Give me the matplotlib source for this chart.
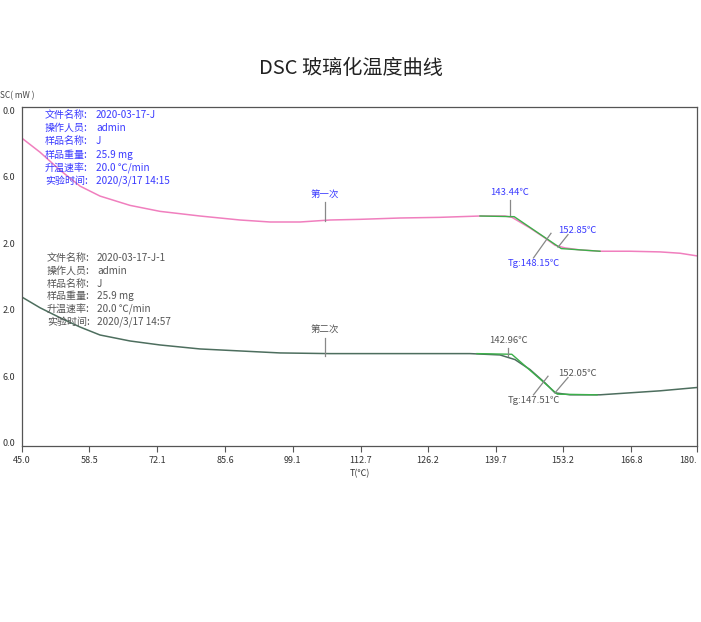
import matplotlib
matplotlib.use("Agg")
import matplotlib.pyplot as plt

plt.rcParams['font.family'] = ['Noto Sans CJK SC', 'DejaVu Sans']

# 温度 (℃) 与 热流读数 (以刻度格为单位，0 在顶部)
temp_1 = [45.0, 48.6, 52.6, 56.6, 60.6, 66.6, 72.6, 80.6, 88.6, 94.6, 100.6, 106.6,
          112.6, 120.6, 128.6, 136.6, 141.6, 143.0, 146.6, 149.6, 151.6, 153.6,
          156.6, 160.6, 166.6, 172.6, 176.6, 180.0]
dsc_1 = [0.42, 0.63, 0.90, 1.14, 1.29, 1.43, 1.52, 1.59, 1.65, 1.68, 1.68, 1.65,
         1.64, 1.62, 1.61, 1.59, 1.59, 1.61, 1.77, 1.92, 2.03, 2.07,
         2.10, 2.12, 2.12, 2.13, 2.15, 2.19]

temp_2 = [45.0, 48.6, 52.6, 56.6, 60.6, 66.6, 72.6, 80.6, 88.6, 96.6, 106.6, 120.6,
          134.6, 140.6, 143.6, 146.6, 149.6, 151.6, 154.6, 160.6, 166.6, 172.6, 180.0]
dsc_2 = [2.81, 2.97, 3.12, 3.26, 3.38, 3.47, 3.53, 3.59, 3.62, 3.65, 3.66, 3.66,
         3.66, 3.68, 3.75, 3.90, 4.10, 4.25, 4.28, 4.28, 4.25, 4.22, 4.17]

# 切线 (起始点, 终止点)
tan_1_x = [136.6, 143.44, 152.85, 160.6]
tan_1_y = [1.59, 1.60, 2.08, 2.12]
tan_2_x = [136.0, 142.96, 152.05, 160.0]
tan_2_y = [3.66, 3.67, 4.27, 4.28]

x_ticks = [45.0, 58.5, 72.1, 85.6, 99.1, 112.7, 126.2, 139.7, 153.2, 166.8, 180.0]
x_labels = ["45.0", "58.5", "72.1", "85.6", "99.1", "112.7", "126.2", "139.7", "153.2", "166.8", "180."]
y_ticks = [0, 1, 2, 3, 4, 5]
y_labels = ["0.0", "6.0", "2.0", "2.0", "6.0", "0.0"]

info_keys = ["文件名称:", "操作人员:", "样品名称:", "样品重量:", "升温速率:", "实验时间:"]
info_1 = ["2020-03-17-J", "admin", "J", "25.9 mg", "20.0 ℃/min", "2020/3/17 14:15"]
info_2 = ["2020-03-17-J-1", "admin", "J", "25.9 mg", "20.0 ℃/min", "2020/3/17 14:57"]

blue = "#3a3aff"
gray = "#555555"
pink = "#f07fbe"
dark = "#4d6e5e"
green = "#3cb04a"

fig = plt.figure(figsize=(7.01, 6.22), dpi=100)
W, H = 701, 622
ax = fig.add_axes([22 / W, (H - 446) / H, 675 / W, 339 / H])

ax.plot(temp_1, dsc_1, color=pink, lw=1.1)
ax.plot(temp_2, dsc_2, color=dark, lw=1.1)
ax.plot(tan_1_x, tan_1_y, color=green, lw=1.0)
ax.plot(tan_2_x, tan_2_y, color=green, lw=1.0)

ax.set_xlim(45, 180)
ax.set_ylim(5.05, -0.05)
ax.set_xticks(x_ticks)
ax.set_xticklabels(x_labels, fontsize=6.5, color="#333333")
ax.get_xticklabels()[-1].set_ha("right")
ax.set_yticks(y_ticks)
ax.set_yticklabels(y_labels, fontsize=6.5, color="#333333")
ax.tick_params(axis="x", length=4, width=0.8, color="#555555", pad=3)
ax.tick_params(axis="y", length=0, pad=5)
for s in ax.spines.values():
    s.set_color("#555555")
    s.set_linewidth(0.9)
ax.set_xlabel("T(℃)", fontsize=6.5, color="#333333", labelpad=3)

# 峰值标注
lc = "#888888"
ann = [
    ("第一次", 105.6, 1.38, 105.6, 1.66, blue),
    ("143.44℃", 142.6, 1.35, 142.6, 1.58, blue),
    ("152.85℃", 154.2, 1.87, 152.2, 2.06, blue),
    ("Tg:148.15℃", 147.3, 2.22, 150.8, 1.85, blue),
    ("第二次", 105.6, 3.42, 105.6, 3.69, gray),
    ("142.96℃", 142.2, 3.57, 142.2, 3.70, gray),
    ("152.05℃", 154.2, 4.02, 151.6, 4.25, gray),
    ("Tg:147.51℃", 147.3, 4.28, 150.2, 4.00, gray),
]
for txt, tx, ty, px, py, c in ann:
    ax.plot([tx, px], [ty, py], color=lc, lw=0.9)
for txt, tx, ty, px, py, c in ann:
    if txt.startswith("Tg"):
        ax.text(tx, ty + 0.02, txt, fontsize=6.8, color=c, ha="center", va="top")
    elif txt.startswith("152"):
        ax.text(tx + 1.8, ty, txt, fontsize=6.8, color=c, ha="center", va="bottom")
    else:
        ax.text(tx, ty - 0.04, txt, fontsize=6.8, color=c, ha="center", va="bottom")

# 实验信息
for i, (k, v) in enumerate(zip(info_keys, info_1)):
    y = 1 - (115 + i * 13.2) / H
    fig.text(45 / W, y, k, fontsize=7.2, color=blue, va="center")
    fig.text(96 / W, y, v, fontsize=7.2, color=blue, va="center")
for i, (k, v) in enumerate(zip(info_keys, info_2)):
    y = 1 - (258 + i * 12.8) / H
    fig.text(47 / W, y, k, fontsize=7.2, color=gray, va="center")
    fig.text(97 / W, y, v, fontsize=7.2, color=gray, va="center")

fig.text(0.5, 1 - 68 / H, "DSC 玻璃化温度曲线", fontsize=14.5, ha="center", va="center", color="#222222")
fig.text(0, 1 - 96 / H, "SC( mW )", fontsize=6, color="#444444", va="center")

fig.savefig("out.png", dpi=100)
